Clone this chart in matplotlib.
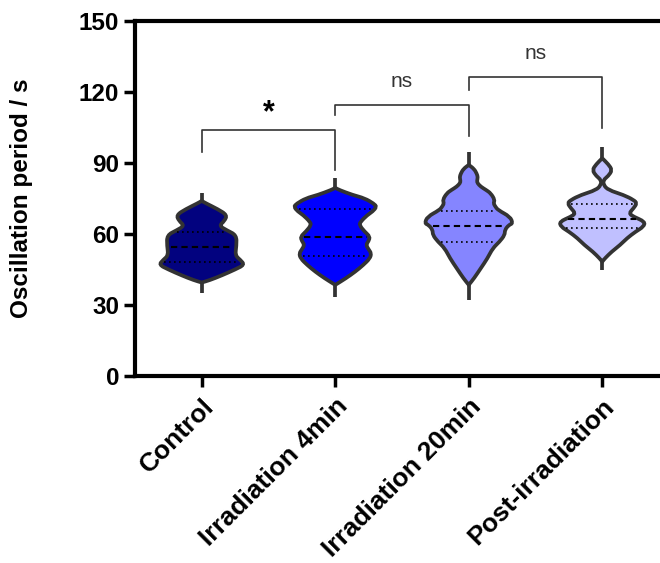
import numpy as np
import matplotlib
matplotlib.use("Agg")
import matplotlib.pyplot as plt
from matplotlib.path import Path
from matplotlib.patches import PathPatch

plt.rcParams['font.family'] = ['Liberation Sans', 'DejaVu Sans']

# groups and colours
groups = ["Control", "Irradiation 4min", "Irradiation 20min", "Post-irradiation"]
fills = ["#02027f", "#0000ff", "#8585ff", "#c0c0ff"]

# violin outlines: level (s) and half width (category units)
ctrl_lvl = [74.0, 73.0, 70.5, 68.0, 65.5, 63.5, 61.5, 59.5, 55.0, 51.0, 49.0, 47.0, 45.0, 42.5, 40.5, 39.5]
ctrl_hw = [0.0, 0.03, 0.12, 0.19, 0.17, 0.13, 0.19, 0.26, 0.26, 0.25, 0.29, 0.32, 0.25, 0.15, 0.06, 0.0]

irr4_lvl = [79.5, 78.6, 76.5, 75.1, 72.8, 71.5, 69.5, 68.0, 65.2, 63.8, 61.0, 58.9, 57.0, 55.4, 53.5, 51.8, 49.7, 46.9, 44.1, 41.3, 38.5]
irr4_hw = [0.0, 0.03, 0.13, 0.22, 0.29, 0.31, 0.28, 0.24, 0.19, 0.18, 0.22, 0.26, 0.25, 0.23, 0.25, 0.27, 0.26, 0.21, 0.15, 0.08, 0.0]

irr20_lvl = [89.2, 87.5, 85.5, 84.0, 82.5, 81.5, 80.0, 78.6, 77.2, 74.4, 73.0, 71.5, 70.1, 67.3, 64.5, 63.8,
             61.7, 59.6, 56.7, 54.0, 49.7, 45.5, 41.3, 38.5]
irr20_hw = [0.0, 0.04, 0.06, 0.068, 0.062, 0.065, 0.09, 0.13, 0.165, 0.195, 0.185, 0.2, 0.22, 0.31, 0.33, 0.30,
            0.27, 0.27, 0.23, 0.18, 0.14, 0.09, 0.04, 0.0]

post_lvl = [92.0, 89.5, 87.0, 84.5, 82.8, 80.7, 78.6, 76.5, 74.4, 73.0, 70.9, 68.7, 67.3, 65.2, 63.1, 61.0,
            58.2, 55.4, 52.5, 49.7, 48.3]
post_hw = [0.0, 0.045, 0.075, 0.045, 0.008, 0.01, 0.045, 0.16, 0.235, 0.26, 0.235, 0.2, 0.235, 0.32, 0.31, 0.25,
           0.185, 0.135, 0.07, 0.02, 0.0]

levels = [ctrl_lvl, irr4_lvl, irr20_lvl, post_lvl]
halfw = [ctrl_hw, irr4_hw, irr20_hw, post_hw]

# min / max (thin tails), median, quartiles
mins = [35.1, 33.5, 32.1, 44.8]
maxs = [77.2, 83.5, 94.8, 96.9]
medians = [54.4, 58.9, 63.5, 66.2]
q1 = [48.0, 50.7, 56.7, 62.7]
q3 = [61.0, 70.4, 69.7, 72.7]

# significance brackets: (left group, right group, top, left leg end, right leg end, text, text y)
brackets = [(0, 1, 103.9, 94.8, 87.0, "*", 111.0),
            (1, 2, 114.5, 110.3, 101.4, "ns", 124.4),
            (2, 3, 126.5, 120.8, 104.6, "ns", 136.3)]


def smooth_patch(xs, ys, **kw):
    # closed outline drawn with quadratic curves through edge midpoints
    pts = np.column_stack([xs, ys])
    mids = (pts + np.roll(pts, -1, axis=0)) / 2
    verts = [mids[-1]]
    codes = [Path.MOVETO]
    for k in range(len(pts)):
        verts += [pts[k], mids[k]]
        codes += [Path.CURVE3, Path.CURVE3]
    return PathPatch(Path(verts, codes), **kw)


fig = plt.figure(figsize=(6.6, 5.63), dpi=100)
ax = fig.add_axes([135 / 660, 187 / 563, 560.7 / 660, 355 / 563])

edge = "#333333"
for i in range(len(groups)):
    lv = np.array(levels[i])
    hw = np.array(halfw[i])
    ax.plot([i, i], [mins[i], maxs[i]], color=edge, lw=2.7, solid_capstyle="butt", zorder=2)
    xs = np.concatenate([i - hw, (i + hw)[::-1]])
    ys = np.concatenate([lv, lv[::-1]])
    ax.add_patch(smooth_patch(xs, ys, facecolor=fills[i], edgecolor=edge, lw=2.7, zorder=3))
    # quartile and median lines span the violin
    for val, ls, lw in [(q1[i], (0, (1, 2)), 1.2), (q3[i], (0, (1, 2)), 1.2), (medians[i], (0, (3, 2)), 1.5)]:
        w = np.interp(val, lv[::-1], hw[::-1]) - 0.025
        ax.plot([i - w, i + w], [val, val], color="black", ls=ls, lw=lw, zorder=4)

for a, b, top, la, lb, txt, ty in brackets:
    ax.plot([a, a, b, b], [la, top, top, lb], color="#333333", lw=1.2, zorder=2)
    if txt == "*":
        ax.text((a + b) / 2, ty, txt, ha="center", va="center", fontsize=22, fontweight="bold", color="black")
    else:
        ax.text((a + b) / 2, ty, txt, ha="center", va="center", fontsize=15, color="#333333")

ax.set_xlim(-0.5, 3.7)
ax.set_ylim(0, 150)
ax.set_yticks([0, 30, 60, 90, 120, 150])
ax.set_xticks(range(len(groups)))
ax.set_xticklabels(groups, rotation=45, ha="right", rotation_mode="anchor", fontsize=19, fontweight="bold")
for lab in ax.get_yticklabels():
    lab.set_fontsize(17.5)
    lab.set_fontweight("bold")
ax.set_ylabel("Oscillation period / s", fontsize=17.5, fontweight="bold")
ax.yaxis.set_label_coords(-0.182, 0.5)
ax.tick_params(axis="both", width=2.5, length=8, direction="out")
ax.tick_params(axis="x", pad=5)
for s in ["left", "bottom", "top"]:
    ax.spines[s].set_linewidth(3)
ax.spines["right"].set_visible(False)

fig.savefig("out.png", dpi=100)
